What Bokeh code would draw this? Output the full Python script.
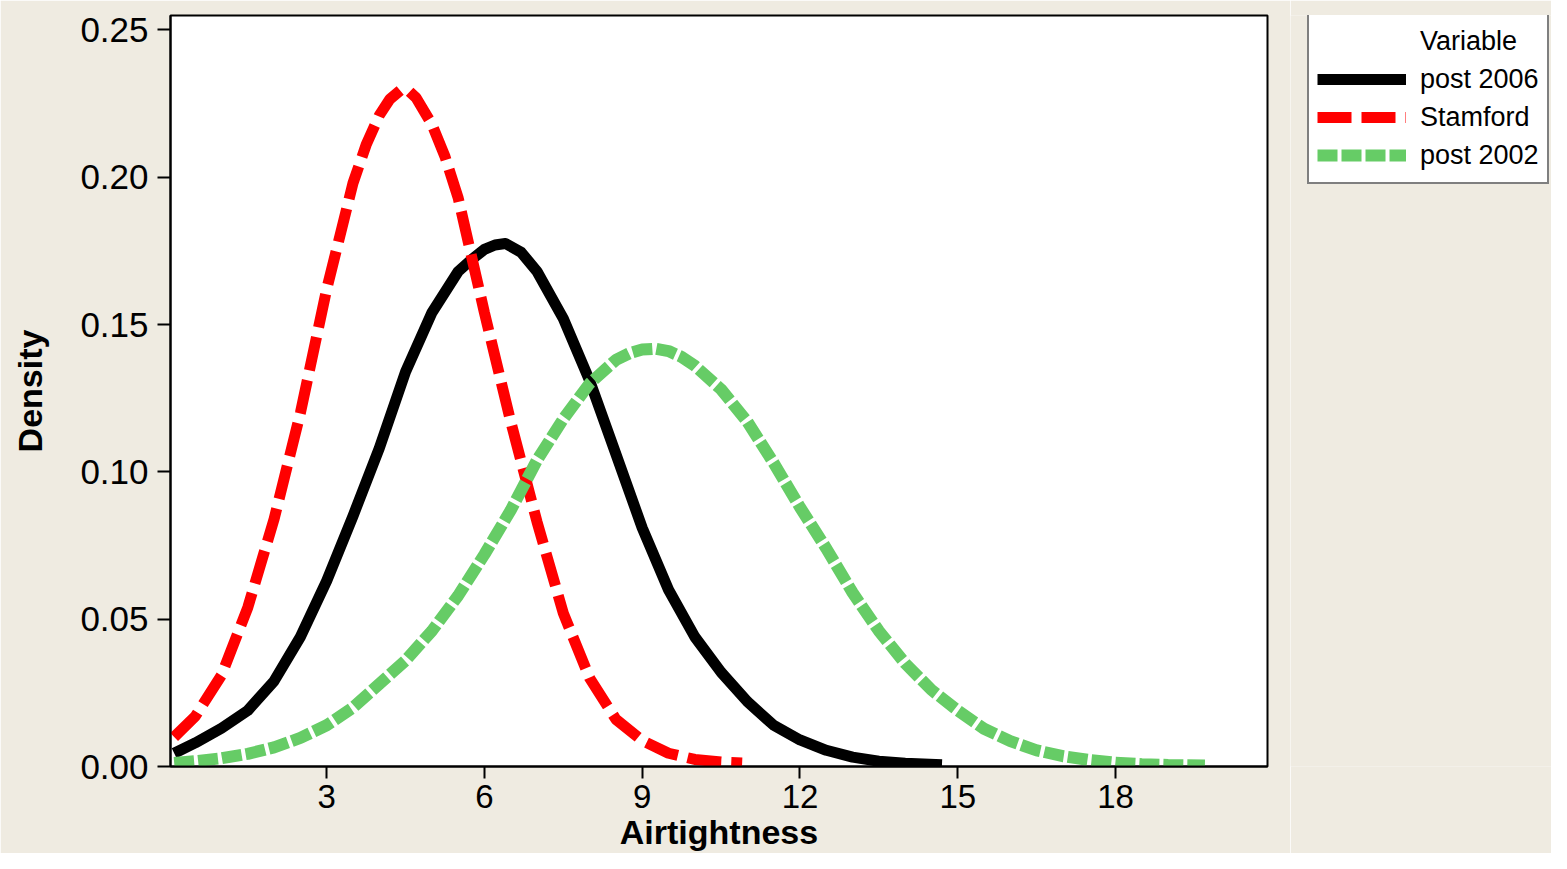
from bokeh.plotting import figure
from bokeh.layouts import row
from bokeh.models import Range1d, Legend, LegendItem, FixedTicker, PrintfTickFormatter
from bokeh.embed import file_html
from bokeh.resources import INLINE

# ---- data ----
x_post2006 = [0.1, 0.5, 1.0, 1.5, 2.0, 2.5, 3.0, 3.5, 4.0, 4.5, 5.0, 5.5, 5.75, 6.0, 6.2, 6.4, 6.7, 7.0,
              7.5, 8.0, 8.5, 9.0, 9.5, 10.0, 10.5, 11.0, 11.5, 12.0, 12.5, 13.0, 13.5, 14.0, 14.7]
y_post2006 = [0.0045, 0.008, 0.013, 0.019, 0.029, 0.044, 0.063, 0.085, 0.108, 0.134, 0.154, 0.168, 0.172,
              0.1755, 0.1770, 0.1775, 0.1745, 0.168, 0.152, 0.131, 0.106, 0.081, 0.060, 0.044, 0.032,
              0.022, 0.014, 0.009, 0.0055, 0.0032, 0.0018, 0.0011, 0.0006]

x_stamford = [0.1, 0.5, 1.0, 1.5, 2.0, 2.5, 3.0, 3.5, 3.75, 4.0, 4.2, 4.4, 4.55, 4.7, 5.0, 5.25, 5.5, 6.0,
              6.5, 7.0, 7.5, 8.0, 8.5, 9.0, 9.5, 10.0, 10.5, 10.9]
y_stamford = [0.010, 0.017, 0.031, 0.054, 0.084, 0.120, 0.162, 0.198, 0.211, 0.221, 0.2265, 0.2295, 0.2295,
              0.227, 0.218, 0.207, 0.193, 0.154, 0.117, 0.083, 0.052, 0.030, 0.016, 0.0088, 0.0045,
              0.0024, 0.0015, 0.0012]

x_post2002 = [0.1, 0.5, 1.0, 1.5, 2.0, 2.5, 3.0, 3.5, 4.0, 4.5, 5.0, 5.5, 6.0, 6.5, 7.0, 7.5, 8.0, 8.5,
              8.75, 9.0, 9.25, 9.5, 9.75, 10.0, 10.5, 11.0, 11.5, 12.0, 12.5, 13.0, 13.5, 14.0, 14.5,
              15.0, 15.5, 16.0, 16.5, 17.0, 17.5, 18.0, 18.5, 19.0, 19.7]
y_post2002 = [0.0012, 0.0018, 0.0028, 0.0043, 0.0065, 0.0097, 0.014, 0.020, 0.028, 0.036, 0.046, 0.058,
              0.072, 0.087, 0.104, 0.118, 0.130, 0.138, 0.1402, 0.1415, 0.1418, 0.141, 0.1390, 0.136,
              0.128, 0.117, 0.103, 0.088, 0.074, 0.059, 0.046, 0.035, 0.026, 0.019, 0.0128, 0.0086,
              0.0055, 0.0035, 0.0022, 0.0013, 0.0008, 0.0005, 0.0003]

x_ticks = [3, 6, 9, 12, 15, 18]
y_ticks = [0.0, 0.05, 0.10, 0.15, 0.20, 0.25]
series_names = ["post 2006", "Stamford", "post 2002"]
legend_title = "Variable"
x_label = "Airtightness"
y_label = "Density"

FONT = "Liberation Sans"
BG = "#EFEBE1"
STYLES = [dict(line_color="black", line_width=11, line_join="round"),
          dict(line_color="#FF0000", line_width=11, line_dash="34 10"),
          dict(line_color="#66CC66", line_width=12, line_dash="20 4")]

# ---------------- main chart ----------------
p = figure(width=1290, height=853, output_backend="svg", toolbar_location=None,
           x_range=Range1d(0.03, 20.89), y_range=Range1d(0.0, 0.2549),
           min_border_left=170, min_border_right=23, min_border_top=15, min_border_bottom=87)
p.title.visible = False
p.background_fill_color = "white"
p.border_fill_color = BG
p.outline_line_color = "black"
p.outline_line_width = 2
p.xgrid.visible = False
p.ygrid.visible = False

for ax in (p.xaxis[0], p.yaxis[0]):
    ax.axis_line_width = 2
    ax.major_tick_line_width = 2
    ax.major_tick_in = 0
    ax.major_tick_out = 13
    ax.minor_tick_line_color = None
    ax.major_label_text_font = FONT
    ax.major_label_text_font_size = "35px"
    ax.major_label_text_color = "black"
    ax.axis_label_text_font = FONT
    ax.axis_label_text_font_style = "bold"
    ax.axis_label_text_font_size = "34px"
    ax.axis_label_text_color = "black"

p.xaxis.major_tick_out = 12
p.xaxis.major_label_text_font_size = "33px"
p.xaxis.axis_label_text_font_size = "34px"
p.xaxis.ticker = FixedTicker(ticks=x_ticks)
p.yaxis.ticker = FixedTicker(ticks=y_ticks)
p.yaxis.formatter = PrintfTickFormatter(format="%.2f")
p.xaxis.axis_label = x_label
p.yaxis.axis_label = y_label
p.xaxis.major_label_standoff = 6
p.yaxis.major_label_standoff = 9
p.xaxis.axis_label_standoff = 2
p.yaxis.axis_label_standoff = 28

p.line(x_post2006, y_post2006, **STYLES[0])
p.line(x_stamford, y_stamford, **STYLES[1])
p.line(x_post2002, y_post2002, **STYLES[2])

# ---------------- legend panel (its frame is aligned with the main frame) ----------------
p2 = figure(width=1551 - 1290, height=853, output_backend="svg", toolbar_location=None,
            x_range=Range1d(0, 1), y_range=Range1d(0, 1),
            x_axis_location=None, y_axis_location=None,
            min_border_left=0, min_border_right=0, min_border_top=0, min_border_bottom=0)
p2.title.visible = False
p2.grid.visible = False
p2.outline_line_color = None
p2.background_fill_color = BG
p2.border_fill_color = BG

r_title = p2.line([-5], [-5], line_alpha=0)
lr = [p2.line([-5], [-5], **st) for st in STYLES]

legend = Legend(items=[LegendItem(label=legend_title, renderers=[r_title])] +
                      [LegendItem(label=n, renderers=[r]) for n, r in zip(series_names, lr)],
                location=(1307 - 1290, 582))
legend.border_line_color = "black"
legend.border_line_width = 2
legend.background_fill_color = "white"
legend.background_fill_alpha = 1.0
legend.padding = 8
legend.margin = 0
legend.spacing = 0
legend.label_standoff = 14
legend.glyph_width = 89
legend.glyph_height = 38
legend.label_height = 38
legend.label_text_font = FONT
legend.label_text_font_size = "27px"
legend.label_text_color = "black"
p2.add_layout(legend, "center")

layout = row(p, p2, spacing=0)
open("out.html", "w").write(file_html(layout, INLINE))
